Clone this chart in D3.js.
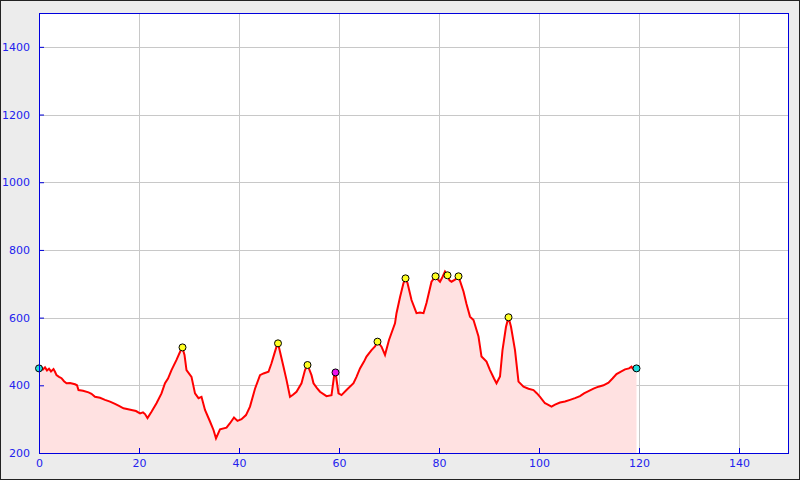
<!DOCTYPE html>
<html><head><meta charset="utf-8">
<script src="https://cdn.jsdelivr.net/npm/d3@7"></script>
<style>
html,body{margin:0;padding:0;background:#ececec;}
svg{display:block;}
</style></head>
<body>
<script>
// Distance (km) and elevation (m) of the profile
const distKm = [0,0.4,0.8,1.2,1.6,2.0,2.4,2.9,3.2,3.5,4.0,4.5,5.0,5.5,6.2,7.2,7.6,7.9,8.8,9.9,10.5,11.2,12.2,13.2,14.2,15.2,16.0,16.9,17.6,18.5,19.4,20.2,20.8,21.2,21.7,22.5,23.5,24.5,25.2,25.8,26.5,27.5,28.3,28.7,29.1,29.5,30.5,31.2,31.9,32.5,33.2,34.2,34.9,35.4,36.2,37.5,38.2,39.0,39.7,40.5,41.4,42.2,43.2,44.2,44.9,45.9,46.5,47.0,47.5,47.8,48.2,48.9,49.5,50.2,50.8,51.5,52.5,53.2,53.7,54.5,54.9,55.6,56.2,57.5,58.5,59.0,59.3,59.9,60.5,61.5,62.9,63.5,64.2,65.0,65.5,66.5,67.2,67.7,68.5,69.2,70.0,71.2,71.5,72.2,72.9,73.3,73.7,74.5,75.5,76.2,76.9,77.5,78.5,79.3,79.8,80.2,80.7,81.2,81.7,82.1,82.5,83.2,83.9,84.9,85.5,86.2,86.9,87.9,88.5,89.5,90.2,91.0,91.5,92.2,92.7,93.4,93.9,94.4,95.2,95.9,96.9,97.9,98.9,99.6,100.2,101.2,101.5,102.5,103.2,104.2,105.2,106.2,107.2,108.2,109.0,109.9,110.9,111.9,112.9,113.9,114.7,115.5,116.3,117.2,118.0,118.5,118.9,119.5];
const elevM  = [450,455,447,453,444,449,441,448,440,430,425,421,412,406,407,403,400,386,384,379,375,366,363,357,352,345,339,332,330,327,324,317,320,315,303,322,347,376,406,420,445,475,502,510,490,445,425,376,362,366,327,293,268,243,270,275,288,305,295,300,312,337,390,430,435,440,465,490,514,524,499,455,416,366,372,381,406,445,460,430,406,392,381,368,371,426,438,376,371,386,406,425,450,470,485,504,515,529,514,490,534,583,613,660,702,716,702,652,613,615,613,643,706,722,712,706,720,736,725,710,706,712,722,677,640,603,593,544,485,470,445,420,406,426,504,573,601,573,504,411,396,390,386,376,366,347,345,337,343,349,352,357,362,368,376,383,390,396,400,408,420,433,440,447,450,455,447,450];
// Highlighted points (km, m, kind)
const markKm   = [0,28.7,47.8,53.7,59.3,67.7,73.3,79.3,81.7,83.9,93.9,119.5];
const markM    = [450,512,524,460,438,529,716,722,725,722,601,450];
const markKind = ["end","peak","peak","peak","pass","peak","peak","peak","peak","peak","peak","end"];
const xTicks = [0,20,40,60,80,100,120,140];
const yTicks = [200,400,600,800,1000,1200,1400];

const W=800,H=480;
const L=39,R=789,T=13,B=453;
const svg=d3.select("body").append("svg").attr("width",W).attr("height",H);
svg.append("rect").attr("x",0.5).attr("y",0.5).attr("width",W-1).attr("height",H-1)
  .attr("fill","#ececec").attr("stroke","#222");
svg.append("rect").attr("x",L).attr("y",T).attr("width",R-L).attr("height",B-T).attr("fill","#fff");

const x=d3.scaleLinear().domain([0,150]).range([L,R]);
const y=d3.scaleLinear().domain([200,1500]).range([B,T]);

const g=svg.append("g");
// grid
g.selectAll(".gx").data(xTicks.filter(d=>d>0)).join("line")
  .attr("x1",d=>Math.round(x(d))+0.5).attr("x2",d=>Math.round(x(d))+0.5)
  .attr("y1",T).attr("y2",B).attr("stroke","#c8c8c8").attr("stroke-width",1);
g.selectAll(".gy").data(yTicks.filter(d=>d>200)).join("line")
  .attr("y1",d=>Math.round(y(d))+0.5).attr("y2",d=>Math.round(y(d))+0.5)
  .attr("x1",L).attr("x2",R).attr("stroke","#c8c8c8").attr("stroke-width",1);

const pts=distKm.map((d,i)=>[d,elevM[i]]);
const area=d3.area().x(d=>x(d[0])).y0(y(200)).y1(d=>y(d[1]));
const line=d3.line().x(d=>x(d[0])).y(d=>y(d[1]));
g.append("path").datum(pts).attr("d",area).attr("fill","#ffe1e1");
g.append("path").datum(pts).attr("d",line).attr("fill","none").attr("stroke","#ff0000")
  .attr("stroke-width",2).attr("stroke-linejoin","miter");

const colors={peak:"#ffff22",end:"#22dddd",pass:"#ee11ee"};
g.selectAll(".mk").data(markKm.map((d,i)=>({k:d,m:markM[i],t:markKind[i]}))).join("circle")
  .attr("cx",d=>x(d.k)).attr("cy",d=>y(d.m)).attr("r",3.5)
  .attr("fill",d=>colors[d.t]).attr("stroke","#000").attr("stroke-width",1);

// border
svg.append("rect").attr("x",L+0.5).attr("y",T+0.5).attr("width",R-L-1).attr("height",B-T)
  .attr("fill","none").attr("stroke","#0000dd").attr("stroke-width",1);

// axes
const tc="#2222ee";
const ax=svg.append("g").attr("transform",`translate(0,${B})`)
  .call(d3.axisBottom(x).tickValues(xTicks).tickSize(-5).tickPadding(6));
const ay=svg.append("g").attr("transform",`translate(${L},0)`)
  .call(d3.axisLeft(y).tickValues(yTicks).tickSize(-5).tickPadding(9).tickFormat(d3.format("d")));
[ax,ay].forEach(a=>{
  a.select(".domain").remove();
  a.selectAll(".tick line").attr("stroke","#0000dd");
  a.selectAll("text").attr("fill",tc).style("font-family","DejaVu Sans").style("font-size","11px");
});
</script>
</body></html>
